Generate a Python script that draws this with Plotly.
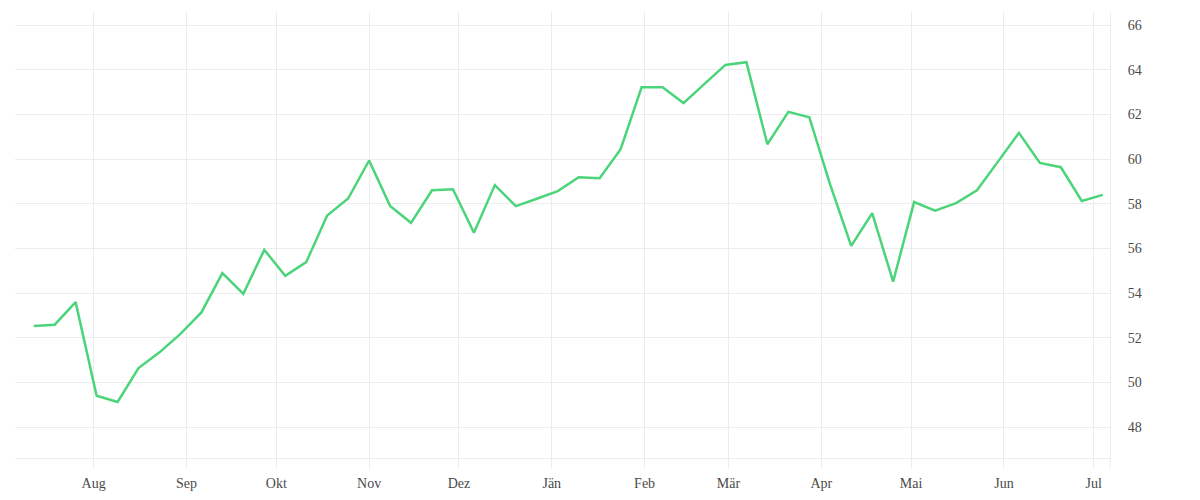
import plotly.graph_objects as go
import pandas as pd

start_date = "2022-07-12"
n_weeks = 52
values = [
    52.53, 52.59, 53.60, 49.41, 49.13, 50.65, 51.35, 52.18, 53.14, 54.90,
    53.97, 55.94, 54.78, 55.39, 57.48, 58.24, 59.94, 57.91, 57.15, 58.61,
    58.65, 56.71, 58.84, 57.90, 58.23, 58.57, 59.19, 59.15, 60.45, 63.22,
    63.22, 62.51, 63.37, 64.22, 64.34, 60.67, 62.12, 61.88, 58.85, 56.12,
    57.58, 54.52, 58.08, 57.69, 58.03, 58.61, 59.89, 61.18, 59.83, 59.64,
    58.13, 58.40,
]
dates = pd.date_range(start_date, periods=n_weeks, freq="7D")

month_ticks = pd.date_range("2022-08-01", "2023-07-01", freq="MS")
month_labels = ["Aug", "Sep", "Okt", "Nov", "Dez", "Jän", "Feb", "Mär", "Apr", "Mai", "Jun", "Jul"]
y_ticks = [48, 50, 52, 54, 56, 58, 60, 62, 64, 66]

grid = "#ececec"
font = dict(family="Liberation Serif, serif", size=14, color="#4a4a4a")

fig = go.Figure()
fig.add_trace(go.Scatter(
    x=dates, y=values, mode="lines",
    line=dict(color="#4cd47b", width=2.5),
    hoverinfo="x+y", showlegend=False,
))

fig.update_layout(
    width=1192, height=492,
    margin=dict(l=7, r=90, t=4, b=42),
    paper_bgcolor="white", plot_bgcolor="white",
    font=font,
    xaxis=dict(
        range=["2022-07-05 18:00", "2023-07-06 10:00"],
        tickvals=month_ticks, ticktext=month_labels,
        showgrid=True, gridcolor=grid, gridwidth=1,
        showline=True, linecolor=grid, linewidth=1,
        ticks="outside", ticklen=10, tickcolor=grid, tickwidth=1,
        ticklabelstandoff=2,
        zeroline=False, tickfont=font,
    ),
    yaxis=dict(
        side="right", range=[46.62, 66.59],
        tickvals=y_ticks,
        showgrid=True, gridcolor=grid, gridwidth=1,
        showline=True, linecolor=grid, linewidth=1,
        ticks="", ticklabelstandoff=14,
        zeroline=False, tickfont=font,
    ),
    shapes=[dict(type="line", xref="paper", yref="paper", x0=1, x1=1,
                 y0=-10 / 446, y1=0, line=dict(color=grid, width=1), layer="below")],
)

fig.write_html("out.html")
